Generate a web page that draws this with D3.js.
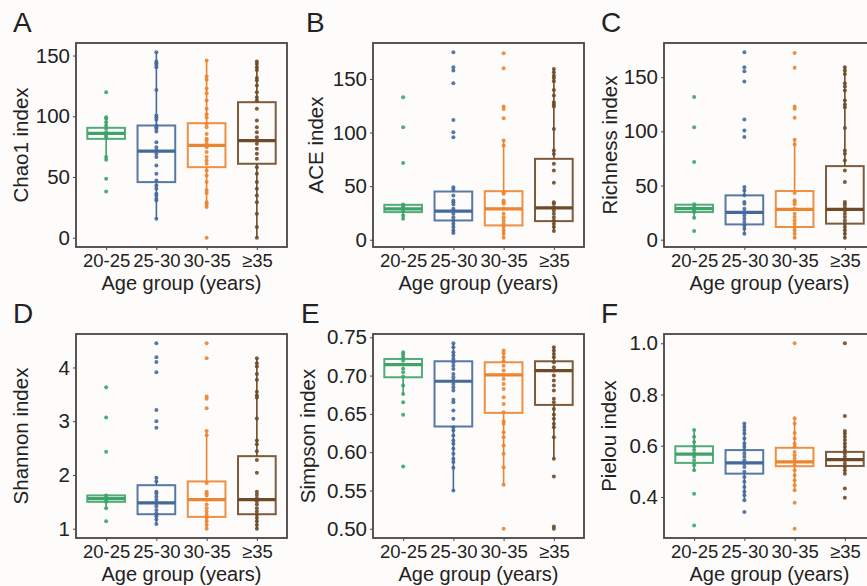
<!DOCTYPE html>
<html>
<head>
<meta charset="utf-8">
<script src="https://cdn.jsdelivr.net/npm/d3@7"></script>
<style>
  body { margin: 0; background: #fdfcfb; }
  text { font-family: "Liberation Sans", Arial, sans-serif; fill: #222; }
</style>
</head>
<body>
<div id="chart"></div>
<script>
// age groups and their colours
var groups = ["20-25", "25-30", "30-35", "≥35"];
var colors = ["#3ea36a", "#46699c", "#ec8430", "#6e4a28"];

// box stats per group: [lower whisker, q1, median, q3, upper whisker]
// points per group: values (overlapping points merged)
var chao1Stats = [[64.2, 81.4, 86, 90.5, 99.3], [15.6, 45.8, 71.3, 92.4, 152.7], [25.2, 58.1, 76, 94.3, 145.9], [0, 60.9, 80, 111.6, 145]];
var chao1Points = [
  [119.8, 99.3, 97.9, 95.1, 92.4, 89.7, 86.9, 85.5, 84.2, 82.8, 66.4, 64.2, 48.5, 38.1],
  [152.7, 145, 143.7, 142.3, 140.4, 121.7, 100.6, 99.3, 97.1, 92.4, 91.0, 89.7, 87.5, 78.7, 74.6, 71.8, 69.1, 66.4, 59.5, 52.6, 47.2, 43.0, 40.3, 36.2, 34.8, 32.1, 30.7, 15.6],
  [145.9, 132.7, 130.0, 122.6, 119.0, 113.0, 106.1, 101.7, 99.0, 93.6, 90.9, 85.5, 81.4, 80.0, 77.3, 74.6, 70.5, 66.4, 63.6, 61.0, 55.4, 51.3, 45.8, 39.0, 36.8, 29.3, 27.4, 25.2, 0],
  [145.0, 143.1, 140.4, 138.2, 131.6, 129.4, 125.3, 119.8, 115.7, 113.0, 106.1, 96.5, 91.0, 86.9, 82.8, 77.3, 73.2, 69.1, 65.0, 58.1, 52.6, 45.8, 40.3, 34.8, 29.3, 19.7, 8.8, 0]
];

var aceStats = [[19.6, 25.8, 28.9, 32.6, 33.5], [6.2, 18, 26.7, 45, 49], [1.9, 13.4, 28.9, 45.3, 92.6], [8.1, 17.4, 29.8, 75.5, 159.3]];
var acePoints = [
  [132.9, 105.0, 71.7, 32.9, 31.1, 29.8, 28.0, 26.7, 22.7, 19.6],
  [174.9, 160.9, 157.8, 146.0, 111.8, 100.3, 95.7, 49.0, 46.6, 41.3, 36.6, 35.1, 32.9, 28.9, 27.3, 24.2, 21.1, 18.0, 14.9, 11.8, 8.7, 6.2],
  [173.9, 160.0, 124.2, 122.0, 113.4, 92.6, 87.9, 44.4, 42.9, 36.6, 35.1, 33.5, 28.9, 24.2, 21.1, 18.0, 14.9, 11.8, 8.7, 5.6, 1.9],
  [159.3, 156.2, 153.1, 150.9, 147.8, 139.8, 134.5, 128.3, 126.1, 124.2, 103.4, 83.2, 80.1, 70.8, 64.6, 53.1, 35.1, 33.5, 30.4, 27.3, 24.2, 21.1, 18.0, 14.9, 11.8, 8.1]
];

var richStats = [[20.3, 25.5, 28.6, 32.3, 33], [5.5, 14.1, 25.2, 40.9, 48.6], [1.8, 11.7, 28, 44.9, 93.1], [1.8, 14.8, 28, 67.9, 159.2]];
var richPoints = [
  [131.6, 103.9, 71.6, 32.6, 30.7, 28.6, 27.0, 25.5, 20.3, 8.0],
  [173.0, 159.2, 155.5, 146.0, 111.0, 100.8, 94.7, 48.6, 45.5, 40.9, 34.7, 33.2, 28.6, 25.5, 22.4, 19.4, 16.3, 13.2, 10.1, 5.5],
  [172.4, 158.6, 123.0, 120.8, 112.5, 92.2, 87.9, 43.0, 36.3, 34.7, 32.6, 28.6, 24.0, 20.9, 17.8, 14.8, 11.7, 8.6, 5.5, 1.8],
  [159.2, 156.1, 153.0, 144.5, 141.4, 137.7, 128.5, 124.8, 122.3, 103.0, 82.4, 79.3, 73.2, 63.9, 53.2, 34.7, 32.6, 30.1, 27.0, 24.0, 20.9, 17.8, 14.8, 11.7, 8.6, 5.5, 1.8]
];

var shannonStats = [[1.38, 1.50, 1.56, 1.62, 1.64], [1.09, 1.27, 1.48, 1.81, 1.95], [1.0, 1.22, 1.54, 1.88, 2.82], [1.0, 1.27, 1.54, 2.35, 4.17]];
var shannonPoints = [
  [3.63, 3.07, 2.43, 1.62, 1.58, 1.54, 1.50, 1.38, 1.14],
  [4.45, 4.19, 4.10, 3.91, 3.21, 3.00, 2.88, 1.95, 1.88, 1.69, 1.66, 1.60, 1.54, 1.48, 1.42, 1.35, 1.29, 1.23, 1.17, 1.09],
  [4.45, 4.17, 3.46, 3.42, 3.24, 2.82, 2.74, 1.85, 1.69, 1.66, 1.62, 1.54, 1.45, 1.38, 1.32, 1.26, 1.20, 1.14, 1.07, 1.0],
  [4.17, 4.08, 4.02, 3.88, 3.77, 3.55, 3.48, 3.44, 3.05, 2.64, 2.57, 2.44, 2.28, 2.04, 1.69, 1.63, 1.57, 1.51, 1.45, 1.38, 1.32, 1.26, 1.20, 1.14, 1.07, 1.0]
];

var simpsonStats = [[0.676, 0.6978, 0.7144, 0.7217, 0.7304], [0.55, 0.6335, 0.6926, 0.7187, 0.7422], [0.5574, 0.6513, 0.7009, 0.7174, 0.7326], [0.5913, 0.6617, 0.7065, 0.7187, 0.737]];
var simpsonPoints = [
  [0.7304, 0.7274, 0.7239, 0.7196, 0.7145, 0.7089, 0.7043, 0.6987, 0.6870, 0.6761, 0.6652, 0.6487, 0.5813],
  [0.7422, 0.7370, 0.7304, 0.7261, 0.7217, 0.7174, 0.7130, 0.7087, 0.7022, 0.6978, 0.6935, 0.6891, 0.6848, 0.6804, 0.6683, 0.6652, 0.6543, 0.6435, 0.6326, 0.6283, 0.6217, 0.6152, 0.6109, 0.6043, 0.5978, 0.5913, 0.5870, 0.5796, 0.5500],
  [0.7326, 0.7291, 0.7239, 0.7187, 0.7130, 0.7065, 0.7009, 0.6957, 0.6891, 0.6826, 0.6717, 0.6630, 0.6522, 0.6404, 0.6370, 0.6261, 0.6196, 0.6087, 0.5978, 0.5804, 0.5574, 0.5],
  [0.7370, 0.7326, 0.7283, 0.7239, 0.7174, 0.7109, 0.7065, 0.7000, 0.6935, 0.6870, 0.6804, 0.6696, 0.6652, 0.6565, 0.6491, 0.6435, 0.6370, 0.6326, 0.6196, 0.5913, 0.5683, 0.5030, 0.5]
];

var pielouStats = [[0.504, 0.533, 0.567, 0.598, 0.661], [0.387, 0.491, 0.533, 0.583, 0.687], [0.426, 0.52, 0.537, 0.592, 0.707], [0.491, 0.521, 0.546, 0.576, 0.658]];
var pielouPoints = [
  [0.661, 0.635, 0.615, 0.596, 0.583, 0.570, 0.557, 0.543, 0.524, 0.504, 0.413, 0.289],
  [0.687, 0.674, 0.661, 0.648, 0.628, 0.609, 0.596, 0.583, 0.570, 0.557, 0.543, 0.530, 0.517, 0.498, 0.478, 0.459, 0.439, 0.420, 0.407, 0.387, 0.341],
  [1.0, 0.707, 0.687, 0.650, 0.628, 0.609, 0.596, 0.576, 0.563, 0.550, 0.537, 0.524, 0.504, 0.485, 0.465, 0.446, 0.426, 0.377, 0.276],
  [1.0, 0.716, 0.658, 0.648, 0.635, 0.622, 0.609, 0.596, 0.583, 0.570, 0.557, 0.543, 0.530, 0.517, 0.504, 0.491, 0.433, 0.397]
];

var panels = [
  {letter: "A", title: "Chao1 index", ticks: [0, 50, 100, 150], fmt: "d", stats: chao1Stats, points: chao1Points},
  {letter: "B", title: "ACE index", ticks: [0, 50, 100, 150], fmt: "d", stats: aceStats, points: acePoints},
  {letter: "C", title: "Richness index", ticks: [0, 50, 100, 150], fmt: "d", stats: richStats, points: richPoints},
  {letter: "D", title: "Shannon index", ticks: [1, 2, 3, 4], fmt: "d", stats: shannonStats, points: shannonPoints},
  {letter: "E", title: "Simpson index", ticks: [0.5, 0.55, 0.6, 0.65, 0.7, 0.75], fmt: ".2f", stats: simpsonStats, points: simpsonPoints},
  {letter: "F", title: "Pielou index", ticks: [0.4, 0.6, 0.8, 1.0], fmt: ".1f", stats: pielouStats, points: pielouPoints}
];

// layout
var width = 867, height = 586;
var colLeft = [76, 373, 664];
var rowTop = [43, 334];
var pw = 211, ph = 204;
var titleOff = [55, 57, 54, 55, 65, 55];   // y title centre, left of frame
var letterOff = [63, 67, 63, 63, 72, 63];  // panel letter, left of frame

var svg = d3.select("#chart").append("svg")
  .attr("width", width)
  .attr("height", height);

svg.append("rect").attr("width", width).attr("height", height).attr("fill", "#fdfcfb");

panels.forEach(function(p, i) {
  var left = colLeft[i % 3], top = rowTop[Math.floor(i / 3)];
  var g = svg.append("g").attr("transform", "translate(" + left + "," + top + ")");

  // y domain = data range with 5% padding (like ggplot)
  var all = d3.merge(p.points);
  var lo = d3.min(all), hi = d3.max(all), pad = (hi - lo) * 0.05;
  var y = d3.scaleLinear().domain([lo - pad, hi + pad]).range([ph, 0]);
  var x = d3.scalePoint().domain(groups).range([0, pw]).padding(0.6);
  var bw = x.step() * 0.75;

  // axes
  var yAxis = d3.axisLeft(y).tickValues(p.ticks).tickFormat(d3.format(p.fmt)).tickSize(3).tickPadding(3);
  var ya = g.append("g").call(yAxis);
  ya.select(".domain").remove();
  ya.selectAll("line").attr("stroke", "#4a4442");
  ya.selectAll("text").style("font-size", "20.5px").attr("fill", "#222");

  var xAxis = d3.axisBottom(x).tickSize(3).tickPadding(4);
  var xa = g.append("g").attr("transform", "translate(0," + ph + ")").call(xAxis);
  xa.select(".domain").remove();
  xa.selectAll("line").attr("stroke", "#4a4442");
  xa.selectAll("text").style("font-size", "18.5px").attr("fill", "#222");

  // boxes
  var boxes = g.selectAll(".box").data(p.stats).enter().append("g")
    .attr("transform", function(d, j) { return "translate(" + x(groups[j]) + ",0)"; });
  boxes.append("line")
    .attr("y1", function(d) { return y(d[0]); }).attr("y2", function(d) { return y(d[1]); })
    .attr("stroke", function(d, j) { return colors[j]; }).attr("stroke-width", 1.6);
  boxes.append("line")
    .attr("y1", function(d) { return y(d[3]); }).attr("y2", function(d) { return y(d[4]); })
    .attr("stroke", function(d, j) { return colors[j]; }).attr("stroke-width", 1.6);
  boxes.append("rect")
    .attr("x", -bw / 2).attr("width", bw)
    .attr("y", function(d) { return y(d[3]); })
    .attr("height", function(d) { return y(d[1]) - y(d[3]); })
    .attr("fill", "none")
    .attr("stroke", function(d, j) { return colors[j]; })
    .attr("stroke-width", 2).attr("stroke-opacity", 0.9);
  boxes.append("line")
    .attr("x1", -bw / 2).attr("x2", bw / 2)
    .attr("y1", function(d) { return y(d[2]); }).attr("y2", function(d) { return y(d[2]); })
    .attr("stroke", function(d, j) { return colors[j]; }).attr("stroke-width", 3.2);

  // points
  p.points.forEach(function(vals, j) {
    g.selectAll(".pt" + j).data(vals).enter().append("circle")
      .attr("cx", x(groups[j]))
      .attr("cy", function(d) { return y(d); })
      .attr("r", 2)
      .attr("fill", colors[j]).attr("fill-opacity", 0.9);
  });

  // frame
  g.append("rect").attr("width", pw).attr("height", ph)
    .attr("fill", "none").attr("stroke", "#4a4442").attr("stroke-width", 1.8);

  // titles and panel letter
  g.append("text")
    .attr("transform", "translate(" + (-titleOff[i]) + "," + (ph / 2) + ") rotate(-90)")
    .attr("text-anchor", "middle").attr("dy", "0.35em")
    .style("font-size", "20.5px")
    .text(p.title);
  g.append("text")
    .attr("x", pw / 2).attr("y", ph + 43)
    .attr("text-anchor", "middle")
    .style("font-size", "20px")
    .text("Age group (years)");
  g.append("text")
    .attr("x", -letterOff[i]).attr("y", -11)
    .style("font-size", "28px")
    .text(p.letter);
});
</script>
</body>
</html>
